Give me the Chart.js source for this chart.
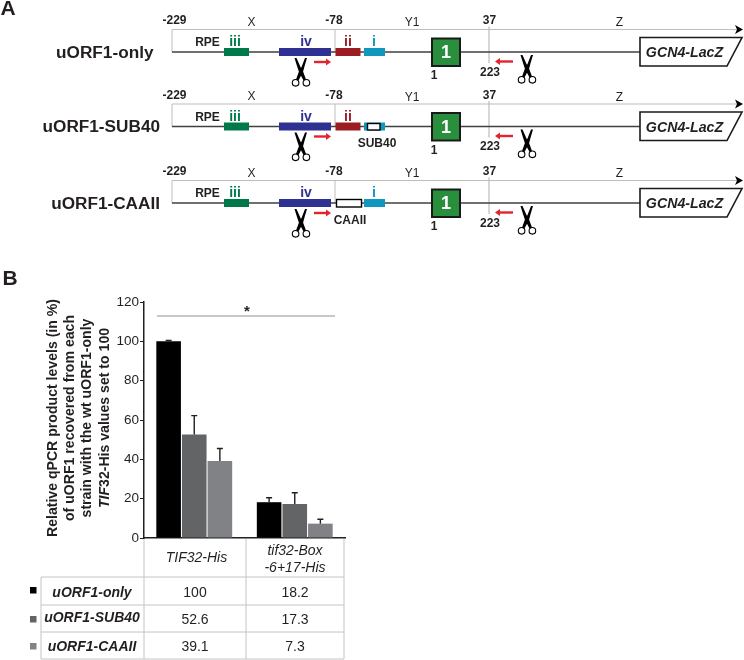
<!DOCTYPE html>
<html>
<head>
<meta charset="utf-8">
<title>uORF1 qPCR</title>
<script src="https://cdn.jsdelivr.net/npm/chart.js@4"></script>
<style>
  html, body { margin: 0; padding: 0; background: #fff; }
  #wrap { position: relative; width: 744px; height: 660px; overflow: hidden; }
  canvas, svg { position: absolute; left: 0; top: 0; }
  svg text { font-family: "Liberation Sans", Arial, sans-serif; fill: #231f20; }
</style>
</head>
<body>
<div id="wrap">
  <canvas id="chart" width="744" height="660"></canvas>
  <svg id="overlay" width="744" height="660" viewBox="0 0 744 660"></svg>
</div>
<script>
const categories = ["TIF32-His", "tif32-Box -6+17-His"];
const seriesNames = ["uORF1-only", "uORF1-SUB40", "uORF1-CAAII"];
const onlyValues = [100, 18.2];
const sub40Values = [52.6, 17.3];
const caaiiValues = [39.1, 7.3];
const onlyErrors = [0.5, 2.3];
const sub40Errors = [9.6, 5.7];
const caaiiErrors = [6.4, 2.2];
const seriesColors = ["#000000", "#636466", "#808285"];
const yTicks = [0, 20, 40, 60, 80, 100, 120];

const allValues = [onlyValues, sub40Values, caaiiValues];
const allErrors = [onlyErrors, sub40Errors, caaiiErrors];

// error bars only go up, so the built-in bar options are not enough
const errorBars = {
  id: "errorBars",
  afterDatasetsDraw(chart) {
    const ctx = chart.ctx;
    const y = chart.scales.y;
    ctx.save();
    ctx.strokeStyle = "#231f20";
    ctx.lineWidth = 1.4;
    chart.data.datasets.forEach((ds, i) => {
      chart.getDatasetMeta(i).data.forEach((bar, j) => {
        const top = y.getPixelForValue(ds.data[j] + allErrors[i][j]);
        ctx.beginPath();
        ctx.moveTo(bar.x, bar.y);
        ctx.lineTo(bar.x, top);
        ctx.moveTo(bar.x - 3, top);
        ctx.lineTo(bar.x + 3, top);
        ctx.stroke();
      });
    });
    ctx.restore();
  }
};

new Chart(document.getElementById("chart").getContext("2d"), {
  type: "bar",
  data: {
    labels: categories,
    datasets: seriesNames.map((name, i) => ({
      label: name,
      data: allValues[i],
      backgroundColor: seriesColors[i],
      categoryPercentage: 0.765,
      barPercentage: 0.96
    }))
  },
  options: {
    responsive: false,
    animation: false,
    layout: { padding: { left: 100, right: 399, top: 302, bottom: 122 } },
    plugins: { legend: { display: false }, tooltip: { enabled: false } },
    scales: {
      x: {
        grid: { display: false },
        border: { color: "#231f20", width: 1.5 },
        ticks: { display: false },
        afterFit(scale) { scale.height = 0; }
      },
      y: {
        min: 0,
        max: 120,
        afterBuildTicks(scale) { scale.ticks = yTicks.map(v => ({ value: v })); },
        grid: { drawOnChartArea: false, tickLength: 4, tickColor: "#231f20" },
        border: { color: "#231f20", width: 1.5 },
        ticks: {
          color: "#231f20",
          padding: 1,
          font: { family: "'Liberation Sans', Arial, sans-serif", size: 13.5 }
        },
        afterFit(scale) { scale.width = 44; }
      }
    }
  },
  plugins: [errorBars]
});

// ---- everything around the chart: gene schematic, y title, table
const svg = document.getElementById("overlay");

function el(name, attrs, parent) {
  const node = document.createElementNS("http://www.w3.org/2000/svg", name);
  for (const k in attrs) node.setAttribute(k, attrs[k]);
  (parent || svg).appendChild(node);
  return node;
}

function text(str, x, y, size, opts = {}) {
  const t = el("text", {
    x, y,
    "font-size": size,
    "font-weight": opts.bold ? "bold" : "normal",
    "font-style": opts.italic ? "italic" : "normal",
    "text-anchor": opts.anchor || "middle",
    "dominant-baseline": "central",
    style: opts.color ? "fill:" + opts.color : ""
  });
  t.textContent = str;
  return t;
}

function line(x1, y1, x2, y2, color, width) {
  el("line", { x1, y1, x2, y2, stroke: color, "stroke-width": width });
}

function rect(x, y, w, h, fill, stroke, sw) {
  el("rect", { x, y, width: w, height: h, fill, stroke: stroke || "none", "stroke-width": sw || 0 });
}

function scissors(cx, top) {
  const g = el("g", { transform: `translate(${cx},${top})` });
  el("path", { d: "M-6.5 0L-4.5 0L-0.5 9L1.5 12L5 21.5L2.5 22.5L-2 14L-4 8Z", fill: "#000" }, g);
  el("path", { d: "M6 0L4 0L0.5 9L-1.5 12L-5 21.5L-2.5 22.5L2 14L3.6 8Z", fill: "#000" }, g);
  el("circle", { cx: -5.4, cy: 24.8, r: 3.3, fill: "none", stroke: "#000", "stroke-width": 1.1 }, g);
  el("circle", { cx: 5.4, cy: 24.8, r: 3.3, fill: "none", stroke: "#000", "stroke-width": 1.1 }, g);
}

function redArrow(x1, x2, y) {
  const dir = x2 > x1 ? 1 : -1;
  line(x1, y, x2 - dir * 4, y, "#e2242f", 2.4);
  el("path", {
    d: `M${x2} ${y}L${x2 - dir * 5} ${y - 3.5}L${x2 - dir * 5} ${y + 3.5}Z`,
    fill: "#e2242f"
  });
}

const GREEN = "#00794a", BLUE = "#2e3192", RED = "#9b1c22", TEAL = "#0f97bd";

function construct(name, nameRight, dy, kind) {
  const top = 29.5 + dy, mid = 52 + dy;
  const gray = "#bdbdbd";

  // coordinate line with arrow
  line(172, top, 738, top, gray, 1);
  el("path", { d: `M735 ${top - 4.5}L743 ${top}L735 ${top + 4.5}L737 ${top}Z`, fill: "#000" });
  line(172, top, 172, mid, gray, 1);
  line(335, top, 335, mid, gray, 1);
  line(489, top - 3, 489, mid + 11, gray, 1.2);

  text("-229", 174.5, 20 + dy, 12, { bold: true });
  text("X", 251.5, 21.5 + dy, 12);
  text("-78", 334, 20 + dy, 12, { bold: true });
  text("Y1", 412, 22 + dy, 12);
  text("37", 489.5, 20 + dy, 12, { bold: true });
  text("Z", 619.5, 22 + dy, 12);

  // gene line and uORF boxes
  line(172, mid, 641, mid, "#404040", 1.6);
  rect(224, mid - 4, 25, 8, GREEN);
  rect(279, mid - 4, 52, 8, BLUE);

  text("RPE", 207.5, 42 + dy, 12, { bold: true });
  text("iii", 235, 41 + dy, 14, { bold: true, color: GREEN });
  text("iv", 306, 41 + dy, 14, { bold: true, color: BLUE });

  if (kind !== "caaii") {
    rect(335.5, mid - 4, 25, 8, RED);
    text("ii", 348, 41 + dy, 14, { bold: true, color: RED });
  } else {
    rect(336.5, mid - 3.5, 25, 7.5, "#fff", "#000", 1.4);
    text("CAAII", 350, 220, 12, { bold: true });
  }
  rect(364, mid - 4, 21, 8, TEAL);
  if (kind === "sub40") {
    rect(367.5, mid - 3, 12.5, 6.5, "#fff", "#000", 1.4);
    text("SUB40", 377, 143, 12, { bold: true });
  } else {
    text("i", 374, 41 + dy, 14, { bold: true, color: TEAL });
  }

  // uORF1 box
  rect(432, mid - 13.5, 28, 27.5, "#2a8f3c", "#1a1a1a", 2);
  text("1", 446, mid, 18, { bold: true, color: "#fff" });
  text("1", 434, 75 + dy, 12, { bold: true });
  text("223", 490, 71.5 + dy, 12, { bold: true });

  // reporter
  el("path", {
    d: `M640 ${mid - 14.5}L742 ${mid - 14.5}L727 ${mid + 14}L640 ${mid + 14}Z`,
    fill: "#fff", stroke: "#1a1a1a", "stroke-width": 1.6
  });
  text("GCN4-LacZ", 684.5, mid, 14.2, { bold: true, italic: true });

  // primers and cut sites
  redArrow(314, 331, 62 + dy);
  redArrow(513, 495, 61.5 + dy);
  scissors(301, 58 + dy);
  scissors(527, 55 + dy);

  text(name, nameRight, mid - 0.5, 17.2, { bold: true, anchor: "end" });
}

text("A", 8, 7, 21, { bold: true });
text("B", 10, 277, 21, { bold: true });
construct("uORF1-only", 153.5, 0, "only");
construct("uORF1-SUB40", 160, 74.5, "sub40");
construct("uORF1-CAAII", 160, 151, "caaii");

// significance bar
line(157, 316, 335, 316, "#8f8f8f", 1);
text("*", 247, 310, 15, { bold: true });

// y axis title
const yTitle = el("g", { transform: "translate(0,418) rotate(-90)" });
const titleLines = [
  "Relative qPCR product levels (in %)",
  "of uORF1 recovered from each",
  "strain with the wt uORF1-only"
];
titleLines.forEach((str, i) => {
  const t = el("text", {
    x: 0, y: 51.5 + i * 17.3, "text-anchor": "middle", "dominant-baseline": "central",
    "font-size": 14.1, "font-weight": "bold"
  }, yTitle);
  t.textContent = str;
});
const last = el("text", {
  x: 0, y: 103.5, "text-anchor": "middle", "dominant-baseline": "central",
  "font-size": 14.1, "font-weight": "bold"
}, yTitle);
el("tspan", { "font-style": "italic" }, last).textContent = "TIF";
el("tspan", {}, last).textContent = "32-His values set to 100";

// data table below the plot
const TABLE = "#c4c4c4";
const rowLines = [577, 605, 632, 659];
rowLines.forEach(y => line(41, y, 344, y, TABLE, 1));
line(41, 577, 41, 659, TABLE, 1);
[144, 246, 344].forEach(x => line(x, 539, x, 659, TABLE, 1));

text("TIF32-His", 196.5, 557, 14, { italic: true });
text("tif32-Box", 295, 550, 14, { italic: true });
text("-6+17-His", 295, 567, 14, { italic: true });

const labelCenters = [591.5, 617, 646];
const valueCenters = [592, 619, 646];
const keyTops = [587, 616, 643];
seriesNames.forEach((name, i) => {
  rect(30, keyTops[i], 6.5, 6.5, seriesColors[i]);
  text(name, 92, labelCenters[i], 14, { bold: true, italic: true });
  allValues[i].forEach((v, j) => {
    text(String(v), j === 0 ? 195 : 295, valueCenters[i], 14);
  });
});
</script>
</body>
</html>
